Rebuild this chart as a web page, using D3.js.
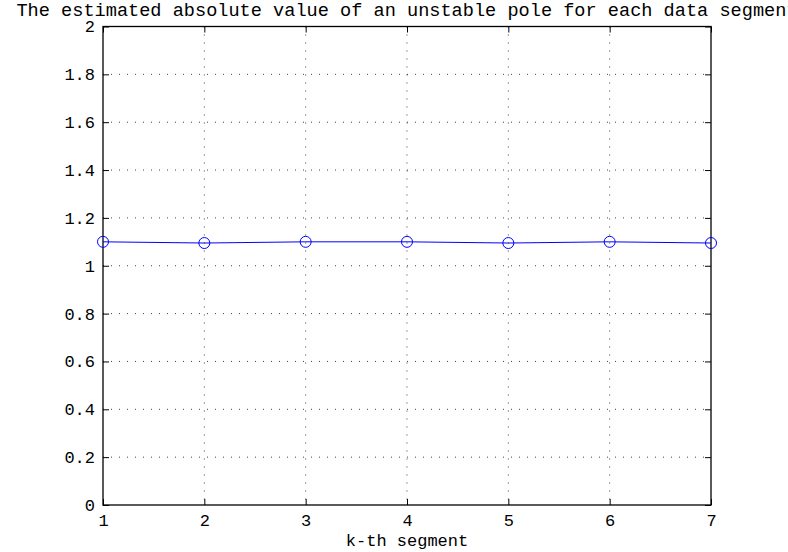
<!DOCTYPE html>
<html><head>
<meta charset="utf-8">
<script src="https://d3js.org/d3.v7.min.js"></script>
<style>
  body { margin: 0; background: white; overflow: hidden; }
  text { font-family: "Liberation Mono", "DejaVu Sans Mono", monospace; fill: black; }
  .grid line { stroke: #000; stroke-dasharray: 1,7; stroke-width: 1; opacity: 0.75; }
</style>
</head>
<body>
<svg id="chart" width="788" height="552"></svg>
<script>
// data
const segments = [1, 2, 3, 4, 5, 6, 7];
const poleAbs = [1.1, 1.095, 1.1, 1.1, 1.095, 1.1, 1.095];
const yTicks = [0, 0.2, 0.4, 0.6, 0.8, 1, 1.2, 1.4, 1.6, 1.8, 2];
const titleText = "The estimated absolute value of an unstable pole for each data segment";
const xLabel = "k-th segment";

const svg = d3.select("#chart");
const margin = {left: 103, right: 77, top: 26.5, bottom: 47};
const W = +svg.attr("width"), H = +svg.attr("height");
const plotW = W - margin.left - margin.right;
const plotH = H - margin.top - margin.bottom;

const x = d3.scaleLinear().domain([1, 7]).range([0, plotW]);
const y = d3.scaleLinear().domain([0, 2]).range([plotH, 0]);

const g = svg.append("g").attr("transform", `translate(${margin.left},${margin.top})`);

// grid
g.append("g").attr("class", "grid")
  .selectAll("line.v").data(segments.slice(1, -1)).join("line")
  .attr("x1", d => x(d)).attr("x2", d => x(d)).attr("y1", 0).attr("y2", plotH);
g.append("g").attr("class", "grid")
  .selectAll("line.h").data(yTicks.slice(1, -1)).join("line")
  .attr("x1", 0).attr("x2", plotW).attr("y1", d => y(d)).attr("y2", d => y(d));

// axes: ticks inside, mirrored on top/right
const tl = 6;
g.append("g").call(d3.axisBottom(x).tickValues(segments).tickSizeInner(-tl).tickSizeOuter(0).tickPadding(9).tickFormat(d3.format("d")))
  .attr("transform", `translate(0,${plotH})`)
  .call(a => a.selectAll("text").attr("font-size", 17));
g.append("g").call(d3.axisTop(x).tickValues(segments).tickSizeInner(-tl).tickSizeOuter(0).tickFormat(""));
g.append("g").call(d3.axisLeft(y).tickValues(yTicks).tickSizeInner(-tl).tickSizeOuter(0).tickPadding(8).tickFormat(d3.format("")))
  .call(a => a.selectAll("text").attr("font-size", 17));
g.append("g").call(d3.axisRight(y).tickValues(yTicks).tickSizeInner(-tl).tickSizeOuter(0).tickFormat(""))
  .attr("transform", `translate(${plotW},0)`);
g.selectAll(".domain").remove();
g.selectAll(".tick line").attr("stroke", "#000");
g.selectAll(".tick text").attr("fill", "#000").attr("font-family", "Liberation Mono");

g.append("rect").attr("width", plotW).attr("height", plotH)
  .attr("fill", "none").attr("stroke", "#000").attr("stroke-width", 1.3);

// series
const pts = segments.map((s, i) => [s, poleAbs[i]]);
g.append("path").datum(pts)
  .attr("fill", "none").attr("stroke", "#0000ff").attr("stroke-width", 1)
  .attr("d", d3.line().x(d => x(d[0])).y(d => y(d[1])));
g.selectAll("circle.m").data(pts).join("circle")
  .attr("cx", d => x(d[0])).attr("cy", d => y(d[1])).attr("r", 5.5)
  .attr("fill", "none").attr("stroke", "#0000ff").attr("stroke-width", 1);

// labels
svg.append("text").attr("x", margin.left + plotW / 2).attr("y", 16)
  .attr("text-anchor", "middle").attr("font-size", 18.6).text(titleText);
svg.append("text").attr("x", margin.left + plotW / 2).attr("y", 546)
  .attr("text-anchor", "middle").attr("font-size", 17).text(xLabel);
</script>
</body>
</html>
